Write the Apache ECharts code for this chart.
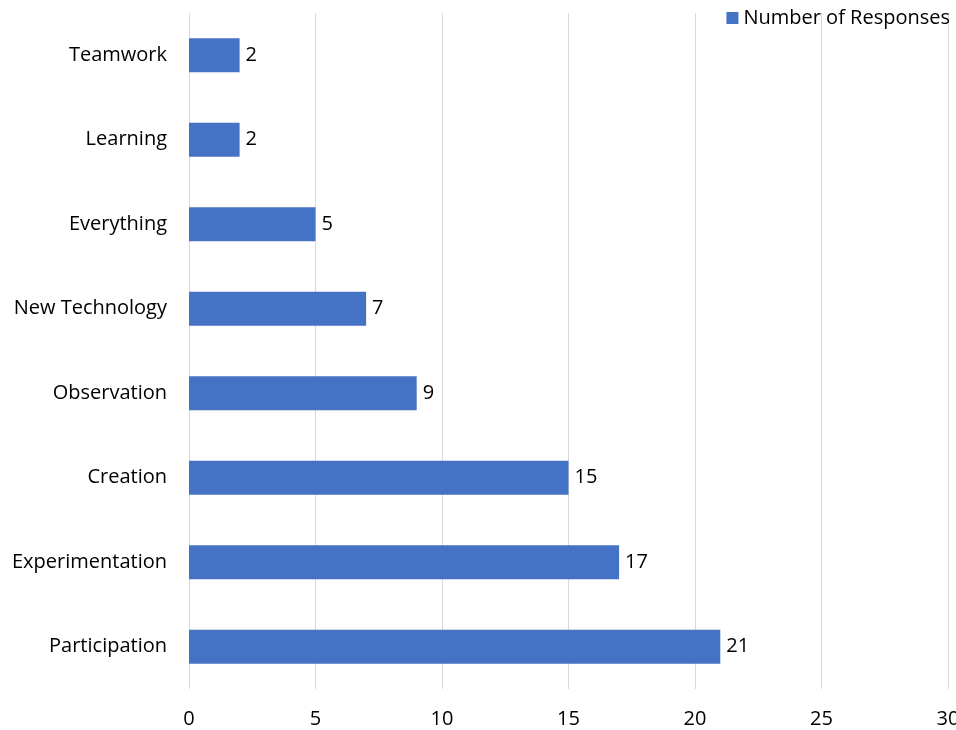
<!DOCTYPE html>
<html>
<head>
<meta charset="utf-8">
<script src="https://cdn.jsdelivr.net/npm/echarts@6/dist/echarts.min.js"></script>
<style>
  html, body { margin: 0; padding: 0; background: #fff; }
  #chart { width: 956px; height: 730px; }
</style>
</head>
<body>
<div id="chart"></div>
<script>
// Survey answers, listed top to bottom
const categories = ['Teamwork', 'Learning', 'Everything', 'New Technology', 'Observation', 'Creation', 'Experimentation', 'Participation'];
const responses = [2, 2, 5, 7, 9, 15, 17, 21];
const seriesName = 'Number of Responses';

const FONT = '"Open Sans", "Noto Sans", sans-serif';

const chart = echarts.init(document.getElementById('chart'), null, { renderer: 'canvas' });
chart.setOption({
  animation: false,
  textStyle: { fontFamily: FONT },
  legend: {
    data: [seriesName],
    right: 1,
    top: 3,
    icon: 'rect',
    itemWidth: 12,
    itemHeight: 12,
    itemGap: 6,
    textStyle: { fontFamily: FONT, fontSize: 20, color: '#000' }
  },
  grid: { left: 189, right: 8, top: 13, bottom: 41, containLabel: false, outerBoundsMode: 'none' },
  xAxis: {
    type: 'value',
    min: 0,
    max: 30,
    interval: 5,
    axisLine: { show: false },
    axisTick: { show: false },
    axisLabel: { fontFamily: FONT, fontSize: 20, color: '#000', margin: 20 },
    splitLine: { lineStyle: { color: '#d9d9d9', width: 1 } }
  },
  yAxis: {
    type: 'category',
    data: categories,
    inverse: true,
    axisLine: { show: false },
    axisTick: { show: false },
    axisLabel: { fontFamily: FONT, fontSize: 20, color: '#000', margin: 22 }
  },
  series: [{
    name: seriesName,
    type: 'bar',
    data: responses,
    barWidth: 34,
    itemStyle: { color: '#4472C4' },
    label: { show: true, position: 'right', distance: 6, fontFamily: FONT, fontSize: 20, color: '#000' }
  }]
});
</script>
</body>
</html>
